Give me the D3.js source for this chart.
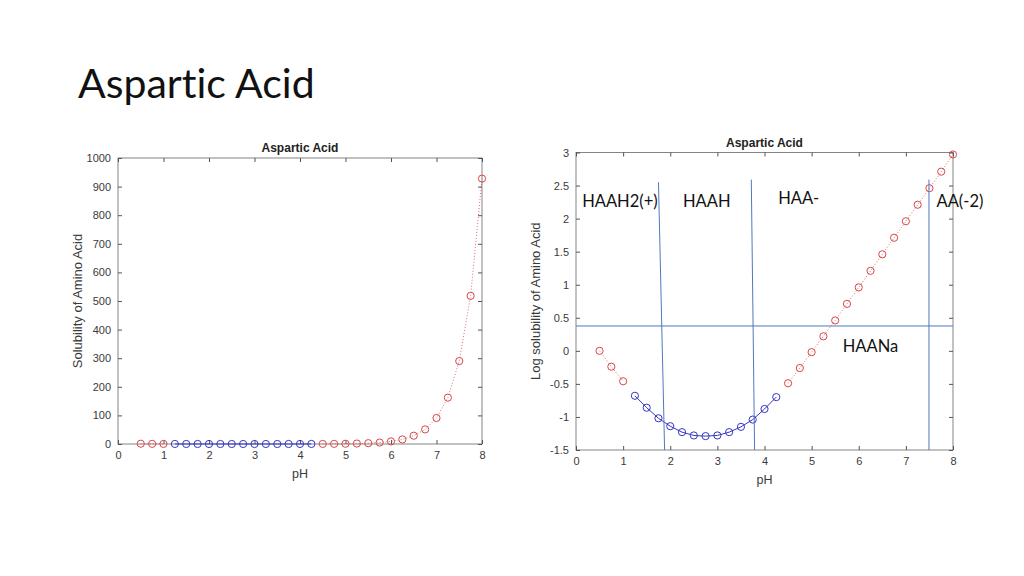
<!DOCTYPE html>
<html>
<head>
<meta charset="utf-8">
<title>Aspartic Acid</title>
<script src="https://cdnjs.cloudflare.com/ajax/libs/d3/7.8.5/d3.min.js"></script>
<style>
    body { margin:0; background:white; }
    svg text { font-family:"Liberation Sans", Arial, sans-serif; }
    .tick text { fill:#3a3a3a; font-size:11px; }
    .tick line { stroke:#555; }
    .slide-text { font-family:Lato, "Open Sans", sans-serif !important; fill:#111; font-variant-ligatures:none; font-feature-settings:"liga" 0; }
</style>
</head>
<body>
<div id="chart"></div>
<script>
// pH values, split by which series they belong to
var phAcid = [0.5, 0.75, 1.0];
var phMid  = [1.25, 1.5, 1.75, 2.0, 2.25, 2.5, 2.75, 3.0, 3.25, 3.5, 3.75, 4.0, 4.25];
var phBase = [4.5, 4.75, 5.0, 5.25, 5.5, 5.75, 6.0, 6.25, 6.5, 6.75, 7.0, 7.25, 7.5, 7.75, 8.0];

// solubility (left chart)
var solAcid = [1.0, 0.58, 0.35];
var solMid  = [0.21, 0.14, 0.095, 0.072, 0.059, 0.053, 0.051, 0.053, 0.059, 0.071, 0.091, 0.132, 0.2];
var solBase = [0.32, 0.55, 0.94, 1.6, 2.9, 5.1, 9.1, 16, 29, 51, 91, 162, 290, 518, 928];

// log solubility (right chart)
var logAcid = [0, -0.24, -0.46];
var logMid  = [-0.68, -0.86, -1.02, -1.14, -1.23, -1.28, -1.29, -1.28, -1.23, -1.15, -1.04, -0.88, -0.70];
var logBase = [-0.49, -0.26, -0.02, 0.22, 0.46, 0.71, 0.96, 1.21, 1.46, 1.71, 1.96, 2.21, 2.46, 2.71, 2.97];

// tick values
var xTicks = [0, 1, 2, 3, 4, 5, 6, 7, 8];
var solTicks = [0, 100, 200, 300, 400, 500, 600, 700, 800, 900, 1000];
var logTicks = [-1.5, -1, -0.5, 0, 0.5, 1, 1.5, 2, 2.5, 3];

// species boundaries drawn on the log chart (pH, log value)
var boundaryTop = [[1.75, 2.55], [3.72, 2.59], [7.49, 2.59]];
var boundaryBottom = [[1.88, -1.5], [3.79, -1.5], [7.49, -1.5]];
var saturationLog = 0.376;
var speciesNames = ['HAAH2(+)', 'HAAH', 'HAA-', 'AA(-2)', 'HAANa'];
var speciesAt = [[0.13, 2.18], [2.27, 2.18], [4.29, 2.22], [7.65, 2.18], [5.66, -0.02]];

var RED = '#d8474a', BLUE = '#3535c2', OVERLAY = '#4f78c0';

var svg = d3.select('#chart').append('svg')
    .attr('width', 1024)
    .attr('height', 576);

svg.append('text')
    .attr('class', 'slide-text')
    .attr('x', 78)
    .attr('y', 98)
    .attr('font-size', 41)
    .text('Aspartic Acid');

function zip(xs, ys) {
    return xs.map(function(x, i) { return [x, ys[i]]; });
}

function panel(box, yDomain, yTicks, yFmt, title, ylabel, series) {
    var g = svg.append('g');
    var x = d3.scaleLinear().domain([0, 8]).range([box.left, box.right]);
    var y = d3.scaleLinear().domain(yDomain).range([box.bottom, box.top]);

    g.append('rect')
        .attr('x', box.left).attr('y', box.top)
        .attr('width', box.right - box.left).attr('height', box.bottom - box.top)
        .attr('fill', 'white').attr('stroke', '#666').attr('stroke-width', 0.8);

    g.append('g').attr('transform', 'translate(0,' + box.bottom + ')')
        .call(d3.axisBottom(x).tickValues(xTicks).tickSizeInner(-4).tickSizeOuter(0).tickPadding(7))
        .call(function(a) { a.select('.domain').remove(); });
    g.append('g').attr('transform', 'translate(0,' + box.top + ')')
        .call(d3.axisTop(x).tickValues(xTicks).tickSizeInner(-4).tickSizeOuter(0).tickFormat(''))
        .call(function(a) { a.select('.domain').remove(); });
    g.append('g').attr('transform', 'translate(' + box.left + ',0)')
        .call(d3.axisLeft(y).tickValues(yTicks).tickSizeInner(-4).tickSizeOuter(0).tickPadding(7).tickFormat(yFmt))
        .call(function(a) { a.select('.domain').remove(); });
    g.append('g').attr('transform', 'translate(' + box.right + ',0)')
        .call(d3.axisRight(y).tickValues(yTicks).tickSizeInner(-4).tickSizeOuter(0).tickFormat(''))
        .call(function(a) { a.select('.domain').remove(); });

    var cx = (box.left + box.right) / 2;
    g.append('text').attr('x', cx).attr('y', box.top - 6)
        .attr('text-anchor', 'middle').attr('font-size', 12).attr('font-weight', 'bold')
        .attr('fill', '#222').text(title);
    g.append('text').attr('x', cx).attr('y', box.bottom + 34)
        .attr('text-anchor', 'middle').attr('font-size', 12.5).attr('fill', '#3a3a3a').text('pH');
    g.append('text')
        .attr('transform', 'translate(' + (box.left - 36) + ',' + ((box.top + box.bottom) / 2) + ') rotate(-90)')
        .attr('text-anchor', 'middle').attr('font-size', 13).attr('fill', '#3a3a3a').text(ylabel);

    var line = d3.line().x(function(d) { return x(d[0]); }).y(function(d) { return y(d[1]); });

    series.forEach(function(s) {
        g.append('path').datum(s.pts)
            .attr('d', line)
            .attr('fill', 'none')
            .attr('stroke', s.color)
            .attr('stroke-width', 1)
            .attr('stroke-dasharray', s.dotted ? '1,2' : null)
            .attr('opacity', s.dotted ? 0.8 : 1);
        g.selectAll(null).data(s.pts).enter().append('circle')
            .attr('cx', function(d) { return x(d[0]); })
            .attr('cy', function(d) { return y(d[1]); })
            .attr('r', 3.6)
            .attr('fill', 'none')
            .attr('stroke', s.color)
            .attr('stroke-width', 1);
    });

    return {g: g, x: x, y: y};
}

panel({left: 118, right: 482, top: 158, bottom: 444}, [0, 1000], solTicks, d3.format('d'),
    'Aspartic Acid', 'Solubility of Amino Acid', [
        {pts: zip(phAcid, solAcid), color: RED, dotted: true},
        {pts: zip(phBase, solBase), color: RED, dotted: true},
        {pts: zip(phMid, solMid), color: BLUE, dotted: false}
    ]);

var right = panel({left: 576, right: 953, top: 152.5, bottom: 450}, [-1.5, 3], logTicks,
    function(d) { return String(d); },
    'Aspartic Acid', 'Log solubility of Amino Acid', [
        {pts: zip(phAcid, logAcid), color: RED, dotted: true},
        {pts: zip(phBase, logBase), color: RED, dotted: true},
        {pts: zip(phMid, logMid), color: BLUE, dotted: false}
    ]);

// overlay lines and species labels
var rx = right.x, ry = right.y;
boundaryTop.forEach(function(t, i) {
    var b = boundaryBottom[i];
    right.g.append('line')
        .attr('x1', rx(t[0])).attr('y1', ry(t[1]))
        .attr('x2', rx(b[0])).attr('y2', ry(b[1]))
        .attr('stroke', OVERLAY).attr('stroke-width', 1);
});
right.g.append('line')
    .attr('x1', rx(0)).attr('x2', rx(8))
    .attr('y1', ry(saturationLog)).attr('y2', ry(saturationLog))
    .attr('stroke', OVERLAY).attr('stroke-width', 1);

speciesNames.forEach(function(name, i) {
    right.g.append('text')
        .attr('class', 'slide-text')
        .attr('x', rx(speciesAt[i][0]))
        .attr('y', ry(speciesAt[i][1]))
        .attr('font-size', 16.5)
        .text(name);
});
</script>
</body>
</html>
